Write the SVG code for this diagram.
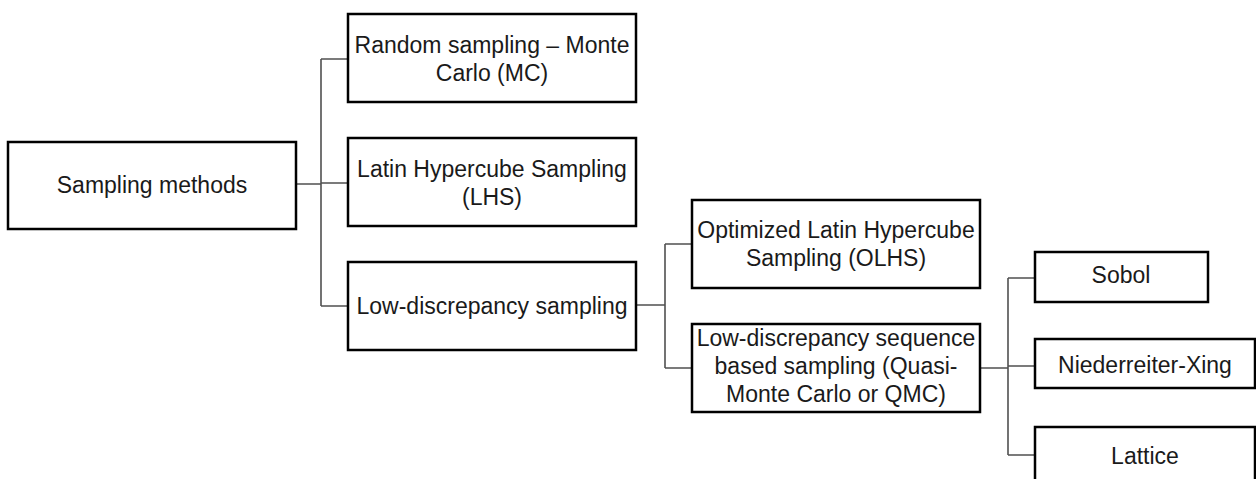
<svg xmlns="http://www.w3.org/2000/svg" width="1256" height="479" viewBox="0 0 1256 479">
<style>
.box{fill:#fff;stroke:#000;stroke-width:2.5}
.t{font-family:"Liberation Sans",Arial,sans-serif;font-size:23px;fill:#1a1a1a;text-anchor:middle}
.c{fill:none;stroke:#505050;stroke-width:1.6}
</style>
<rect width="1256" height="479" fill="#fff"/>
<g id="connectors">
<path class="c" d="M296 184H321M321 59V306M321 59H348M321 183H348M321 306H348"/>
<path class="c" d="M636 305H665M665 244V368M665 244H692M665 368H692"/>
<path class="c" d="M980 368H1008M1008 278V455M1008 278H1035M1008 366H1035M1008 455H1035"/>
</g>
<g id="root"><rect class="box" x="8" y="142" width="288" height="87"/><text class="t" x="152" y="193">Sampling methods</text></g>
<g id="mc"><rect class="box" x="348" y="14" width="288" height="88"/><text class="t" x="492" y="53">Random sampling – Monte</text><text class="t" x="492" y="81">Carlo (MC)</text></g>
<g id="lhs"><rect class="box" x="348" y="138" width="288" height="88"/><text class="t" x="492" y="177">Latin Hypercube Sampling</text><text class="t" x="492" y="205">(LHS)</text></g>
<g id="lds"><rect class="box" x="348" y="262" width="288" height="88"/><text class="t" x="492" y="314">Low-discrepancy sampling</text></g>
<g id="olhs"><rect class="box" x="692" y="200" width="288" height="88"/><text class="t" x="836" y="238">Optimized Latin Hypercube</text><text class="t" x="836" y="266">Sampling (OLHS)</text></g>
<g id="qmc"><rect class="box" x="692" y="324" width="288" height="88"/><text class="t" x="836" y="346">Low-discrepancy sequence</text><text class="t" x="836" y="374">based sampling (Quasi-</text><text class="t" x="836" y="402">Monte Carlo or QMC)</text></g>
<g id="sobol"><rect class="box" x="1035" y="252" width="173" height="50"/><text class="t" x="1121" y="283">Sobol</text></g>
<g id="nx"><rect class="box" x="1035" y="339" width="220" height="49"/><text class="t" x="1145" y="373">Niederreiter-Xing</text></g>
<g id="lattice"><rect class="box" x="1035" y="427" width="220" height="60"/><text class="t" x="1145" y="464">Lattice</text></g>
</svg>
